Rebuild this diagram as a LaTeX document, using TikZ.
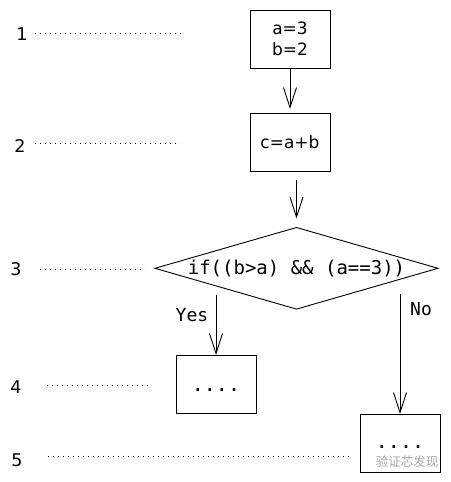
\documentclass[tikz,border=0pt]{standalone}
\usepackage{fontspec}
\setmainfont{DejaVu Sans}
\newfontfamily\monofont{DejaVu Sans Mono}
\newfontfamily\cjkfont{Noto Sans CJK SC}
\usetikzlibrary{arrows.meta,shapes.geometric,calc}
\begin{document}
\begin{tikzpicture}[x=1pt,y=-1pt,
  every node/.style={inner sep=0pt, outer sep=0pt},
  box/.style={draw, line width=0.9pt, minimum width=80pt, minimum height=58pt, font=\fontsize{17}{22}\selectfont},
  num/.style={font=\fontsize{17.5}{20}\selectfont},
  guide/.style={line width=1pt, dash pattern=on 1pt off 4pt},
  arr/.style={line width=0.9pt, -{Straight Barb[length=20pt,width=13pt]}},
  lbl/.style={font=\monofont\fontsize{18}{20}\selectfont},
  dots/.style={font=\monofont\fontsize{20}{20}\selectfont}
]
\useasboundingbox (0,0) rectangle (450,482);
% boxes
\node[box, align=center] (b1) at (290,39) {a=3\\[-1pt]b=2};
\node[box] (b2) at (290,142) {c=a+b};
\node[draw, line width=0.9pt, diamond, aspect=3.47, minimum width=283pt, minimum height=81.6pt,
      font=\monofont\fontsize{19}{20}\selectfont] (d) at (296.5,268.3) {if((b>a) \&\& (a==3))};
\node[box] (b4) at (216,384) {};
\node[box] (b5) at (400,443) {};
\node[dots, anchor=base] (t4) at (216,391) {....};
\node[dots, anchor=base] (t5) at (400,448.5) {....};
% arrows
\draw[arr, shorten >=4pt] (b1.south) -- (b2.north);
\draw[arr, shorten <=9pt, shorten >=9pt] (b2.south -| d.north) -- (d.north);
\coordinate (ys) at (216,295);
\coordinate (ns) at (400,294);
\draw[arr] (ys) -- (b4.north);
\draw[arr] (ns) -- (b5.north);
\node[lbl] (yes) at (192,315) {Yes};
\node[lbl] (no) at (421,309) {No};
% level labels
\node[num] (n1) at (22,34) {1};
\node[num] (n2) at (20,146) {2};
\node[num] (n3) at (16,269) {3};
\node[num] (n4) at (16,387) {4};
\node[num] (n5) at (17,460) {5};
\coordinate (g1) at (183,33);
\coordinate (g2) at (180,143);
\coordinate (g3) at (145,269);
\coordinate (g4) at (151,385.5);
\coordinate (g5) at (352,456.7);
\draw[guide] (35,33) -- (g1);
\draw[guide] (35,143) -- (g2);
\draw[guide] (40,269) -- (g3);
\draw[guide] (47,385.5) -- (g4);
\draw[guide] (48,456.7) -- (g5);
% watermark
\node[text=black!35, font=\cjkfont\fontsize{12.5}{13}\selectfont] (wm) at (407,462) {验证芯发现};
\end{tikzpicture}
\end{document}
